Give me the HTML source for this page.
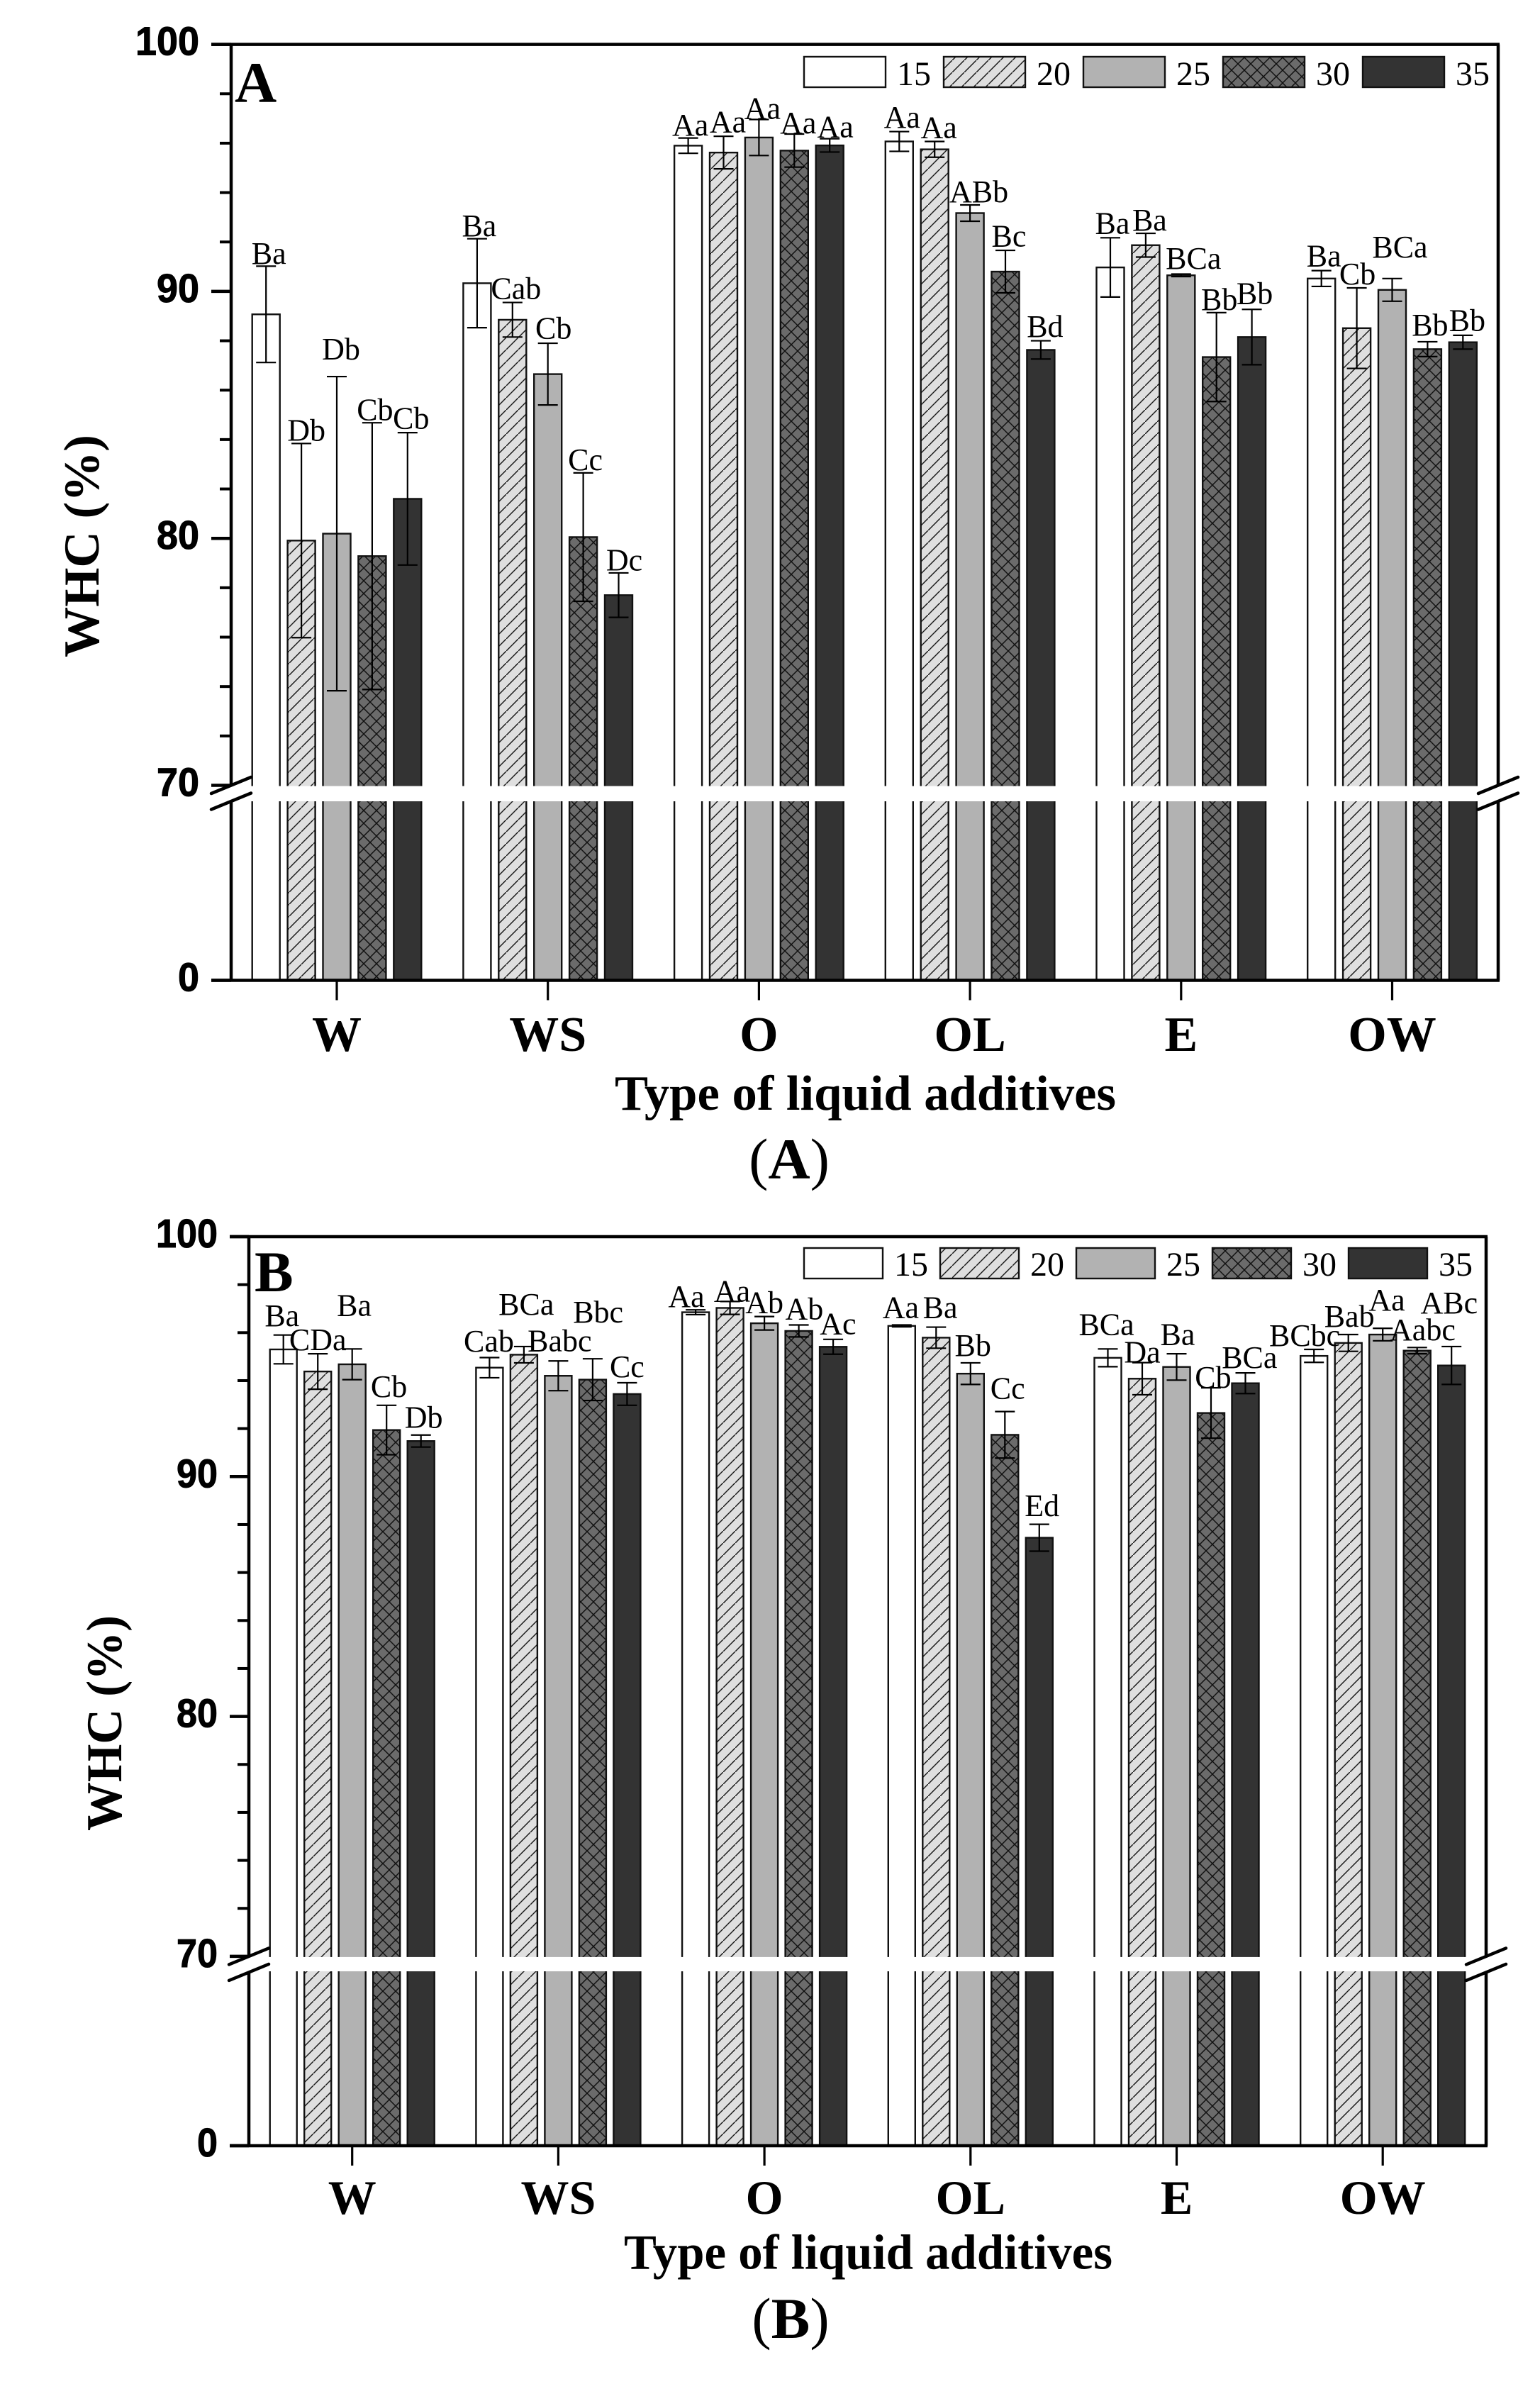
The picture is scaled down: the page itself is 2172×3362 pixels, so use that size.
<!DOCTYPE html>
<html lang="en">
<head>
<meta charset="utf-8">
<title>WHC by type of liquid additives</title>
<style>
html,body{margin:0;padding:0;background:#fff;}
svg{display:block;}
text{fill:#000;}
.serif{font-family:"Liberation Serif",serif;}
.sans{font-family:"Liberation Sans",sans-serif;}
</style>
</head>
<body>
<svg id="figure" xmlns="http://www.w3.org/2000/svg" width="2172" height="3362" viewBox="0 0 2172 3362">
  <defs>
    <pattern id="hatch20" patternUnits="userSpaceOnUse" width="17" height="17">
      <rect width="17" height="17" fill="#dfdfdf"/>
      <path d="M-2 19 L19 -2" stroke="#1a1a1a" stroke-width="1.5" fill="none"/>
    </pattern>
    <pattern id="hatch30" patternUnits="userSpaceOnUse" width="18" height="18">
      <rect width="18" height="18" fill="#6b6b6b"/>
      <path d="M-2 20 L20 -2 M-2 -2 L20 20" stroke="#111" stroke-width="1.5" fill="none"/>
    </pattern>
  </defs>
  <rect width="2172" height="3362" fill="#fff"/>
</svg>
<script>
const categories = ["W", "WS", "O", "OL", "E", "OW"];
const seriesNames = ["15", "20", "25", "30", "35"];
const seriesFills = ["#ffffff", "url(#hatch20)", "#b2b2b2", "url(#hatch30)", "#333333"];
const yTickLabels = [100, 90, 80, 70, 0];
const yMinorTicks = [98, 96, 94, 92, 88, 86, 84, 82, 78, 76, 74, 72];

const valuesA = [
  [89.07, 79.91, 80.19, 79.28, 81.6],
  [90.33, 88.85, 86.65, 80.05, 77.7],
  [95.9, 95.62, 96.23, 95.7, 95.91],
  [96.07, 95.75, 93.17, 90.8, 87.63],
  [90.97, 91.87, 90.65, 87.34, 88.15],
  [90.52, 88.51, 90.06, 87.66, 87.94]
];
const errorsA = [
  [1.95, 3.93, 6.36, 5.4, 2.68],
  [1.8, 0.7, 1.25, 2.6, 0.9],
  [0.31, 0.66, 0.73, 0.67, 0.27],
  [0.4, 0.32, 0.33, 0.86, 0.37],
  [1.2, 0.48, 0.05, 1.8, 1.12],
  [0.32, 1.63, 0.46, 0.3, 0.28]
];
const lettersA = [
  ["Ba", "Db", "Db", "Cb", "Cb"],
  ["Ba", "Cab", "Cb", "Cc", "Dc"],
  ["Aa", "Aa", "Aa", "Aa", "Aa"],
  ["Aa", "Aa", "ABb", "Bc", "Bd"],
  ["Ba", "Ba", "BCa", "Bb", "Bb"],
  ["Ba", "Cb", "BCa", "Bb", "Bb"]
];
const letterLiftA = [
  [0.1, 0.11, 0.69, 0.11, 0.16],
  [0.11, 0.14, 0.19, 0.11, 0.1],
  [0.11, 0.16, 0.03, 0.03, 0.06],
  [0.16, 0.14, 0.11, 0.16, 0.16],
  [0.16, 0.11, 0.22, 0.11, 0.22],
  [0.17, 0.14, 0.86, 0.26, 0.19]
];
const letterShiftA = [
  [0.08, 0.14, 0.12, 0.08, 0.1],
  [0.06, 0.1, 0.16, 0.06, 0.16],
  [0.06, 0.12, 0.1, 0.11, 0.16],
  [0.08, 0.12, 0.25, 0.1, 0.12],
  [0.06, 0.11, 0.35, 0.08, 0.08],
  [0.07, 0.02, 0.22, 0.07, 0.12]
];

const valuesB = [
  [95.3, 94.38, 94.68, 91.94, 91.48],
  [94.54, 95.08, 94.2, 94.04, 93.44],
  [96.85, 97.03, 96.39, 96.07, 95.41],
  [96.28, 95.79, 94.29, 91.74, 87.45],
  [94.95, 94.08, 94.57, 92.65, 93.89],
  [95.03, 95.57, 95.92, 95.25, 94.63]
];
const errorsB = [
  [0.6, 0.74, 0.64, 1.03, 0.25],
  [0.42, 0.34, 0.62, 0.87, 0.47],
  [0.1, 0.27, 0.28, 0.25, 0.31],
  [0.04, 0.44, 0.45, 0.97, 0.56],
  [0.37, 0.67, 0.55, 1.05, 0.43],
  [0.27, 0.35, 0.26, 0.13, 0.79]
];
const lettersB = [
  ["Ba", "CDa", "Ba", "Cb", "Db"],
  ["Cab", "BCa", "Babc", "Bbc", "Cc"],
  ["Aa", "Aa", "Ab", "Ab", "Ac"],
  ["Aa", "Ba", "Bb", "Cc", "Ed"],
  ["BCa", "Da", "Ba", "Cb", "BCa"],
  ["BCbc", "Bab", "Aa", "Aabc", "ABc"]
];
const letterLiftB = [
  [0.38, 0.15, 1.39, 0.35, 0.3],
  [0.25, 1.33, 0.41, 1.51, 0.24],
  [0.12, 0, 0.15, 0.24, 0.21],
  [0.3, 0.38, 0.3, 0.53, 0.35],
  [0.59, 0, 0.37, 0, 0.21],
  [0.15, 0.33, 0.74, 0.3, 1.39]
];
const letterShiftB = [
  [-0.04, 0, 0.06, 0.07, 0.08],
  [-0.02, 0.07, 0.04, 0.16, 0],
  [-0.27, 0.06, 0, 0.16, 0.14],
  [-0.03, 0.12, 0.07, 0.08, 0.08],
  [-0.04, 0, 0.03, 0.06, 0.12],
  [-0.27, 0.03, 0.12, 0.16, -0.07]
];

const svg = document.getElementById('figure');
const NS = 'http://www.w3.org/2000/svg';

function el(tag, attrs, parent) {
  const node = document.createElementNS(NS, tag);
  for (const key in attrs) node.setAttribute(key, attrs[key]);
  parent.appendChild(node);
  return node;
}

function drawPanel(p) {
  const panel = el('g', {}, svg);
  
  

  const yAxis = function (v) {
    if (v >= 70) return p.yTop + (100 - v) * p.unit;
    return p.yZero - v * (p.yZero - p.yBreak) / 70;
  };
  const xBand = function (c) { return p.x0 + c * p.catStep; };
  const xBar = function (c, s) { return xBand(c) + (s - 2) * p.barStep; };

  // bars
  categories.forEach(function (cat, c) {
    p.values[c].forEach(function (v, s) {
      const bar = el('rect', {
        x: xBar(c, s) - p.barW / 2, y: yAxis(v), width: p.barW, height: p.yZero - yAxis(v),
        fill: seriesFills[s], stroke: '#111', 'stroke-width': 2.4
      }, panel);
      
      
    });
  });

  // axes frame
  const frame = [
    [p.tickX, p.yTop, p.xR + 2, p.yTop],
    [p.tickX, p.yZero, p.xR + 2, p.yZero],
    [p.xL, p.yTop, p.xL, p.yZero],
    [p.xR, p.yTop, p.xR, p.yZero]
  ];
  const frameNames = ['top-axis', 'x-axis', 'y-axis', 'right-axis'];
  frame.forEach(function (f, i) {
    const line = el('line', { x1: f[0], y1: f[1], x2: f[2], y2: f[3], stroke: '#000', 'stroke-width': 4.5 }, panel);
    
    
  });

  // axis break band
  const band = el('rect', { x: p.xL - 4, y: yAxis(70) + 1, width: p.xR - p.xL + 8, height: p.yBreak - yAxis(70) - 1, fill: '#fff' }, panel);
  
  

  // y ticks
  yMinorTicks.forEach(function (v) {
    const t = el('line', { x1: p.xL - 16, x2: p.xL, y1: yAxis(v), y2: yAxis(v), stroke: '#000', 'stroke-width': 4 }, panel);
    
    
  });
  yTickLabels.forEach(function (v) {
    const t = el('line', { x1: p.tickX, x2: p.xL, y1: yAxis(v), y2: yAxis(v), stroke: '#000', 'stroke-width': 4.5 }, panel);
    
    
    const label = el('text', {
      class: 'sans', x: p.yLabelX, y: yAxis(v) + 15, 'text-anchor': 'end', 'font-size': 57, 'font-weight': 'bold',
      stroke: '#000', 'stroke-width': 1,
      textLength: String(v).length * p.digitW, lengthAdjust: 'spacingAndGlyphs'
    }, panel);
    label.textContent = v;
    
    
  });

  // break marks
  [p.xL, p.xR].forEach(function (ax) {
    [0, 22.5].forEach(function (off) {
      const m = el('line', {
        x1: ax - 28, y1: yAxis(70) + 11.5 + off, x2: ax + 28, y2: yAxis(70) - 11.5 + off,
        stroke: '#000', 'stroke-width': 4.5, 'stroke-linecap': 'round'
      }, panel);
      
      
    });
  });

  // x ticks and category labels
  categories.forEach(function (cat, c) {
    const t = el('line', { x1: xBand(c), x2: xBand(c), y1: p.yZero, y2: p.yZero + 28, stroke: '#000', 'stroke-width': 3.2 }, panel);
    
    
    const label = el('text', {
      class: 'serif', x: xBand(c), y: p.catY, 'text-anchor': 'middle', 'font-size': p.catFont, 'font-weight': 'bold'
    }, panel);
    label.textContent = cat;
    
    
  });

  // error bars and significance letters
  categories.forEach(function (cat, c) {
    p.values[c].forEach(function (v, s) {
      const e = p.errors[c][s];
      const x = xBar(c, s);
      const top = yAxis(v + e), bot = yAxis(v - e);
      const err = el('path', {
        d: 'M' + (x - 14) + ' ' + top + 'H' + (x + 14) + 'M' + x + ' ' + top + 'V' + bot + 'M' + (x - 14) + ' ' + bot + 'H' + (x + 14),
        fill: 'none', stroke: '#000', 'stroke-width': 2.2
      }, panel);
      
      
      const letter = el('text', {
        class: 'serif', x: x + p.letterShift[c][s] * p.barStep,
        y: yAxis(v + e + p.letterLift[c][s]), 'text-anchor': 'middle', 'font-size': 44
      }, panel);
      letter.textContent = p.letters[c][s];
      
      
    });
  });

  // legend
  seriesNames.forEach(function (name, s) {
    const bx = p.legX + s * p.legStep;
    const box = el('rect', {
      x: bx, y: p.legY, width: p.legW, height: p.legH, fill: seriesFills[s], stroke: '#111', 'stroke-width': 2.4
    }, panel);
    
    
    const label = el('text', { class: 'serif', x: bx + p.legW + 16, y: p.legBase, 'font-size': 48 }, panel);
    label.textContent = name;
    
    
  });

  // panel letter
  const tag = el('text', {
    class: 'serif', x: p.tagX, y: p.tagY, 'font-size': 82, 'font-weight': 'bold'
  }, panel);
  tag.textContent = p.key;
  
  

  // y title
  const yTitle = el('text', {
    class: 'serif', x: 0, y: 0, 'text-anchor': 'middle', 'font-size': 71, 'font-weight': 'bold',
    textLength: p.yTitleLen, lengthAdjust: 'spacingAndGlyphs',
    transform: 'translate(' + p.yTitleX + ' ' + p.yTitleY + ') rotate(-90)'
  }, panel);
  yTitle.textContent = 'WHC (%)';
  
  

  // x title
  const xTitle = el('text', {
    class: 'serif', x: p.xTitleX, y: p.xTitleY, 'font-size': 70, 'font-weight': 'bold',
    textLength: p.xTitleLen, lengthAdjust: 'spacingAndGlyphs'
  }, panel);
  xTitle.textContent = 'Type of liquid additives';
  
  

  // caption
  const cap = el('text', {
    class: 'serif', x: p.capX, y: p.capY, 'text-anchor': 'middle', 'font-size': 82
  }, panel);
  
  
  cap.appendChild(document.createTextNode('('));
  const capLetter = el('tspan', { 'font-weight': 'bold' }, cap);
  capLetter.textContent = p.key;
  cap.appendChild(document.createTextNode(')'));
}

drawPanel({
  key: 'A', values: valuesA, errors: errorsA, letters: lettersA, letterLift: letterLiftA, letterShift: letterShiftA,
  yTop: 62.6, unit: 34.83, yBreak: 1130, yZero: 1382.5, xL: 326, xR: 2113, tickX: 298,
  yLabelX: 281, digitW: 30, x0: 475, catStep: 297.7, barStep: 49.9, barW: 39,
  catY: 1482, catFont: 70,
  legX: 1134, legStep: 197, legW: 115, legH: 43, legY: 80, legBase: 120,
  tagX: 331, tagY: 144, yTitleX: 139, yTitleY: 770, yTitleLen: 314,
  xTitleX: 867, xTitleY: 1565, xTitleLen: 707, capX: 1113, capY: 1662
});
drawPanel({
  key: 'B', values: valuesB, errors: errorsB, letters: lettersB, letterLift: letterLiftB, letterShift: letterShiftB,
  yTop: 1744, unit: 33.83, yBreak: 2780, yZero: 3026, xL: 351, xR: 2096, tickX: 324,
  yLabelX: 307, digitW: 29, x0: 496.7, catStep: 290.7, barStep: 48.5, barW: 38,
  catY: 3122, catFont: 68,
  legX: 1134, legStep: 192, legW: 111, legH: 43, legY: 1760, legBase: 1799,
  tagX: 359, tagY: 1821, yTitleX: 171, yTitleY: 2430, yTitleLen: 304,
  xTitleX: 880, xTitleY: 3199.5, xTitleLen: 689, capX: 1115, capY: 3297
});
</script>
</body>
</html>
